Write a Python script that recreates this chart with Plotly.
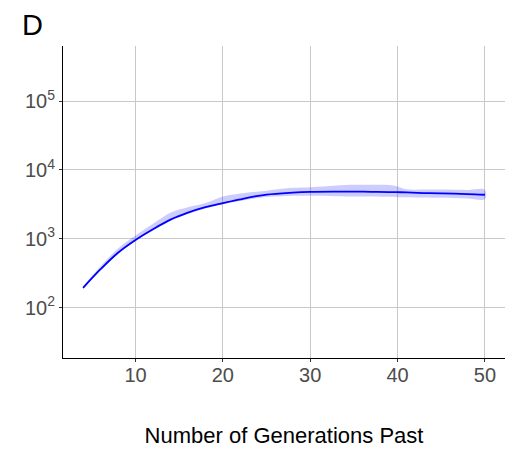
import plotly.graph_objects as go

# Data
generations = [4, 6, 8, 10, 12, 14, 16, 18, 20, 22, 25, 28, 30, 33, 35, 37, 39, 40, 41, 43, 45, 48, 50]
median_pop = [195, 363, 630, 965, 1380, 1900, 2400, 2880, 3300, 3750, 4370, 4680, 4800, 4850, 4850,
              4820, 4780, 4760, 4720, 4620, 4570, 4470, 4370]
upper_pop = [205, 400, 725, 1120, 1660, 2400, 2880, 3310, 4120, 4570, 5010, 5500, 5620, 5960, 6100,
             6100, 6030, 5750, 5250, 5190, 5190, 5130, 5130]
lower_pop = [188, 355, 615, 930, 1320, 1820, 2290, 2750, 3190, 3550, 4040, 4220, 4220, 4170, 4120,
             4120, 4070, 4030, 4030, 3980, 3940, 3850, 3780]

x_ticks = [10, 20, 30, 40, 50]
y_ticks = [100, 1000, 10000, 100000]
y_ticktext = ["10<sup>2</sup>", "10<sup>3</sup>", "10<sup>4</sup>", "10<sup>5</sup>"]

panel_label = "D"
x_title = "Number of Generations Past"

FONT = "Liberation Sans, Arial, sans-serif"

fig = go.Figure()

fig.add_trace(go.Scatter(
    x=generations + generations[::-1],
    y=upper_pop + lower_pop[::-1],
    fill="toself",
    fillcolor="rgba(0,0,255,0.2)",
    line=dict(width=0, shape="spline", smoothing=1.0),
    mode="lines",
    hoverinfo="skip",
    showlegend=False,
))

fig.add_trace(go.Scatter(
    x=generations,
    y=median_pop,
    mode="lines",
    line=dict(color="#0000FF", width=1.8, shape="spline", smoothing=1.0),
    showlegend=False,
))

fig.update_layout(
    width=508,
    height=450,
    autosize=False,
    margin=dict(l=63, r=3, t=46, b=92),
    paper_bgcolor="white",
    plot_bgcolor="white",
    font=dict(family=FONT, size=20, color="#4d4d4d"),
    title=dict(
        text=panel_label,
        font=dict(family=FONT, size=29, color="black"),
        xref="container", yref="container",
        x=22 / 508, xanchor="left",
        y=1 - 25 / 450, yanchor="middle",
    ),
)

fig.update_xaxes(
    range=[1.7, 52.3],
    tickvals=x_ticks,
    ticks="outside", ticklen=3, tickcolor="#333333", tickwidth=1,
    showline=True, linecolor="black", linewidth=1,
    showgrid=True, gridcolor="#c8c8c8", gridwidth=1.2,
    zeroline=False,
    ticklabelstandoff=-4,
    tickfont=dict(family=FONT, size=20, color="#4d4d4d"),
    title=dict(text=x_title, font=dict(family=FONT, size=22, color="black"), standoff=42),
)

fig.update_yaxes(
    type="log",
    range=[1.271, 5.799],
    tickvals=y_ticks,
    ticktext=y_ticktext,
    ticks="outside", ticklen=3, tickcolor="#333333", tickwidth=1,
    showline=True, linecolor="black", linewidth=1,
    showgrid=True, gridcolor="#c8c8c8", gridwidth=1.2,
    zeroline=False,
    tickfont=dict(family=FONT, size=20, color="#4d4d4d"),
)

fig.write_html("out.html")
